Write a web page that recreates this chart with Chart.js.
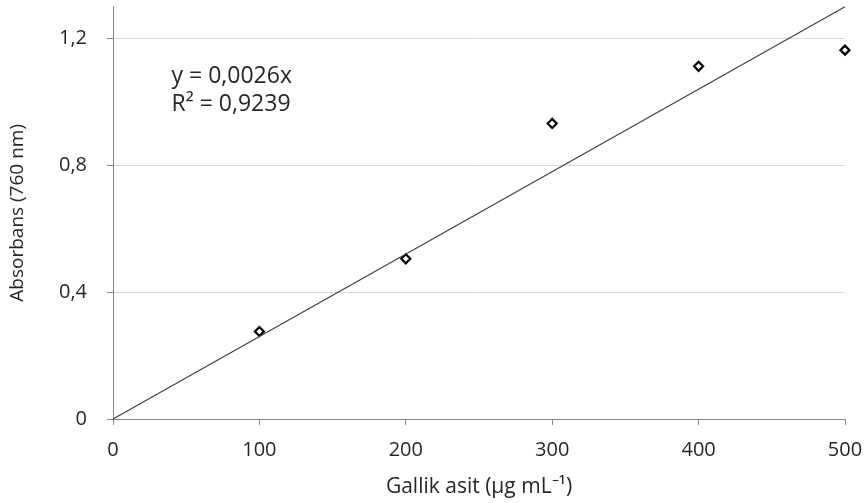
<!DOCTYPE html>
<html>
<head>
<meta charset="utf-8">
<script src="https://cdn.jsdelivr.net/npm/chart.js@4.4.1/dist/chart.umd.min.js"></script>
<style>
  html, body { margin: 0; padding: 0; background: #fff; }
  #wrap { width: 867px; height: 503px; }
</style>
</head>
<body>
<div id="wrap"><canvas id="chart" width="867" height="503"></canvas></div>
<script>
// veriler
const concentrations = [100, 200, 300, 400, 500];
const absorbances = [0.276, 0.505, 0.932, 1.112, 1.163];
const yTicks = [0, 0.4, 0.8, 1.2];
const xTicks = [0, 100, 200, 300, 400, 500];
const trendSlope = 0.0026;
const equationLines = ['y = 0,0026x', 'R² = 0,9239'];

const FONT = '"Open Sans", "Liberation Sans", sans-serif';
const TEXT = '#262626';

// denklem metni
const equationPlugin = {
    id: 'equation',
    afterDatasetsDraw(chart) {
        const { ctx, scales } = chart;
        const x = scales.x.getPixelForValue(40);
        const y = scales.y.getPixelForValue(1.08);
        ctx.save();
        ctx.font = '23px ' + FONT;
        ctx.fillStyle = TEXT;
        ctx.textBaseline = 'middle';
        ctx.fillText(equationLines[0], x, y);
        ctx.fillText(equationLines[1], x, y + 28);
        ctx.restore();
    }
};

new Chart(document.getElementById('chart'), {
    type: 'scatter',
    data: {
        datasets: [
            {
                type: 'line',
                data: [{ x: 0, y: 0 }, { x: 500, y: 500 * trendSlope }],
                borderColor: '#404040',
                borderWidth: 1.2,
                pointRadius: 0,
                fill: false,
                clip: false
            },
            {
                data: concentrations.map((c, i) => ({ x: c, y: absorbances[i] })),
                pointStyle: 'rectRot',
                pointRadius: 4.5,
                pointBorderWidth: 2.2,
                borderColor: '#000',
                backgroundColor: '#fff',
                pointBackgroundColor: '#fff',
                clip: false
            }
        ]
    },
    options: {
        responsive: false,
        animation: false,
        layout: { padding: { top: 5, right: 22, left: 0, bottom: 0 } },
        plugins: {
            legend: { display: false },
            tooltip: { enabled: false }
        },
        scales: {
            x: {
                type: 'linear',
                min: 0,
                max: 500,
                afterBuildTicks: s => { s.ticks = xTicks.map(v => ({ value: v })); },
                afterFit: s => { s.height = 84; s.paddingLeft = 0; s.paddingRight = 0; },
                ticks: {
                    font: { family: FONT, size: 20 },
                    color: TEXT,
                    padding: 13
                },
                grid: { drawOnChartArea: false, drawTicks: true, tickLength: 6, color: '#868686' },
                border: { color: '#868686', width: 1 },
                title: {
                    display: true,
                    text: 'Gallik asit (µg mL⁻¹)',
                    font: { family: FONT, size: 21 },
                    color: TEXT,
                    padding: { top: 3, bottom: 3 }
                }
            },
            y: {
                min: 0,
                max: 1.3,
                afterBuildTicks: s => { s.ticks = yTicks.map(v => ({ value: v })); },
                afterFit: s => { s.width = 113; s.paddingTop = 0; s.paddingBottom = 0; },
                ticks: {
                    font: { family: FONT, size: 20 },
                    color: TEXT,
                    padding: 20,
                    callback: v => String(v).replace('.', ',')
                },
                grid: { color: '#d9d9d9', tickLength: 6, tickColor: '#868686' },
                border: { color: '#868686', width: 1 },
                title: {
                    display: true,
                    text: 'Absorbans (760 nm)',
                    font: { family: FONT, size: 19 },
                    color: TEXT,
                    padding: { top: 6, bottom: 0 }
                }
            }
        }
    },
    plugins: [equationPlugin]
});
</script>
</body>
</html>
